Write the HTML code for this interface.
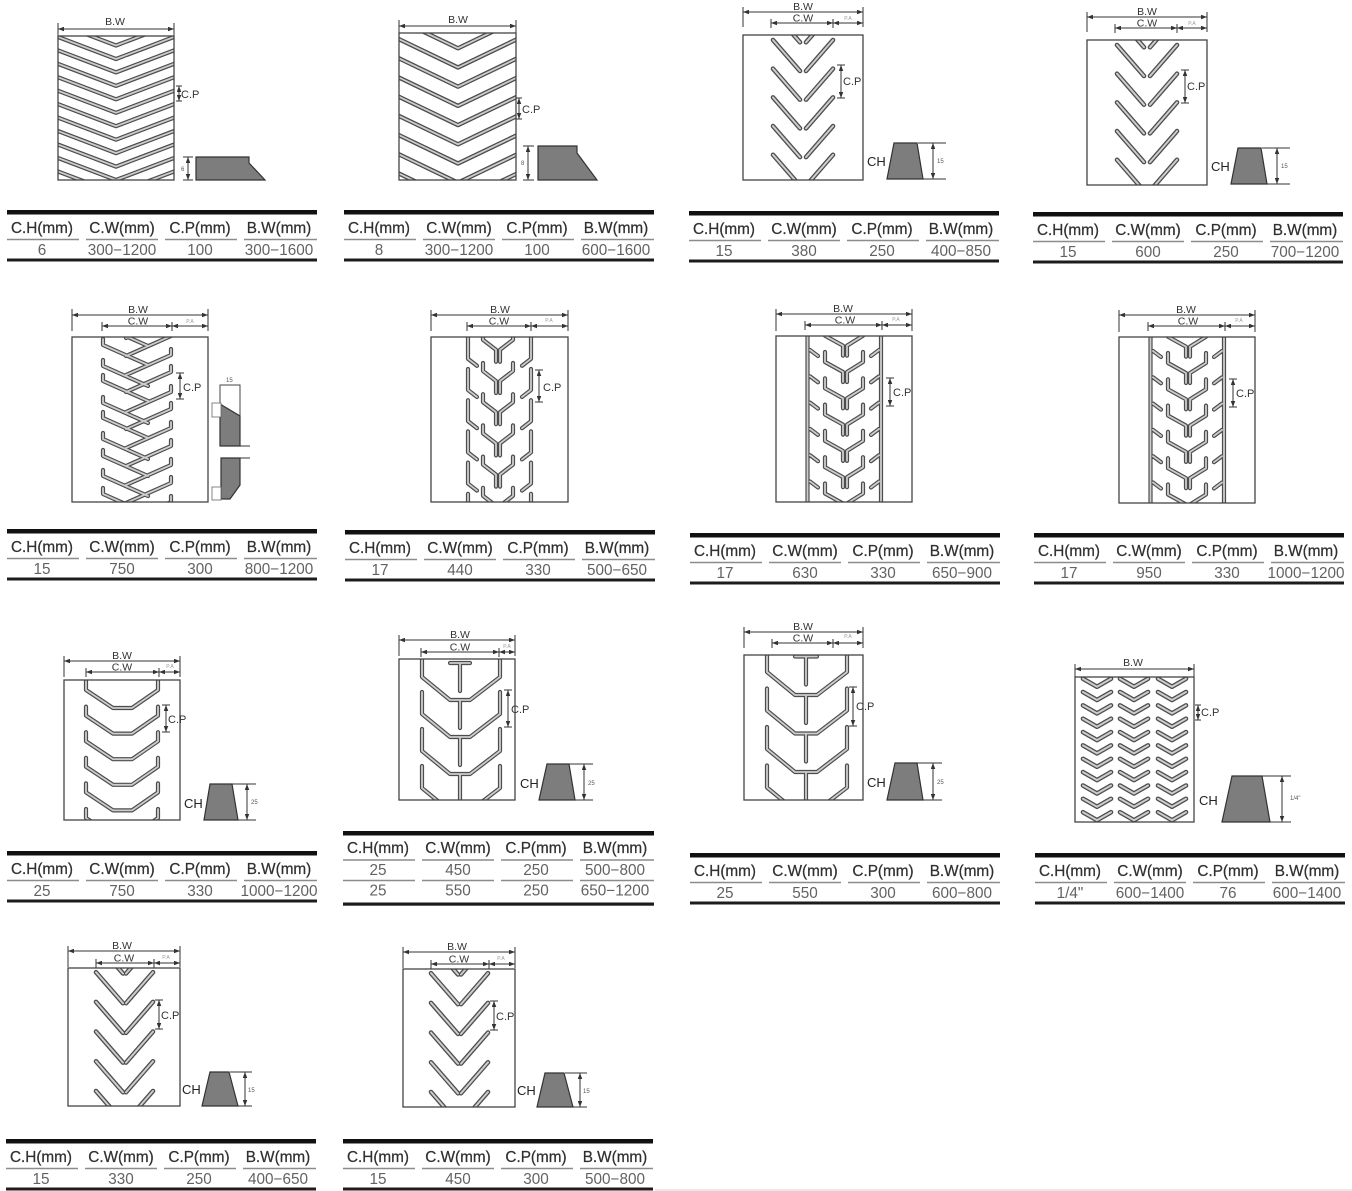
<!DOCTYPE html>
<html><head><meta charset="utf-8">
<style>
html,body{margin:0;padding:0;background:#fff;}
svg{display:block}
text{font-family:"Liberation Sans",Arial,sans-serif;}
.h{font-size:15.3px;fill:#303030;text-anchor:middle;stroke:#303030;stroke-width:0.25}
.v{font-size:15.3px;fill:#626262;text-anchor:middle}
.lb{font-size:10.5px;fill:#333;text-anchor:middle}
.cp{font-size:11px;fill:#333}
.ch{font-size:13px;fill:#222}
.sm{font-size:6px;fill:#555}
.pa{font-size:5px;fill:#999;text-anchor:middle}
.bo{stroke:#4d4d4d;stroke-width:4.6;fill:none;stroke-linecap:round;stroke-linejoin:round}
.bi{stroke:#cdcdcd;stroke-width:2;fill:none;stroke-linecap:round;stroke-linejoin:round}
.rc{fill:none;stroke:#444;stroke-width:1.3}
.dl{stroke:#333;stroke-width:1;fill:none}
.pf{fill:#7d7d7d;stroke:#333;stroke-width:1.2}
</style></head><body>
<svg width="1352" height="1191" viewBox="0 0 1352 1191" xmlns="http://www.w3.org/2000/svg">
<defs>
<marker id="a" viewBox="0 0 8 6" refX="8" refY="3" markerWidth="6" markerHeight="4.5" orient="auto-start-reverse" markerUnits="userSpaceOnUse"><path d="M0 0L8 3L0 6z" fill="#333"/></marker>
<clipPath id="c1"><rect x="58" y="36" width="116" height="144"/></clipPath>
<clipPath id="c2"><rect x="399" y="33" width="117" height="147"/></clipPath>
<clipPath id="c3"><rect x="743" y="35" width="120" height="145"/></clipPath>
<clipPath id="c5"><rect x="72" y="337" width="136" height="165"/></clipPath>
<clipPath id="c6"><rect x="431" y="337" width="137" height="165"/></clipPath>
<clipPath id="c7"><rect x="776" y="336" width="136" height="166"/></clipPath>
<clipPath id="c9"><rect x="64" y="680" width="116" height="140"/></clipPath>
<clipPath id="c10"><rect x="399" y="659" width="116" height="141"/></clipPath>
<clipPath id="c11"><rect x="744" y="655" width="119" height="145"/></clipPath>
<clipPath id="c12"><rect x="1075" y="677" width="119" height="145"/></clipPath>
<clipPath id="c13"><rect x="68" y="968" width="112" height="138"/></clipPath>

<path id="p1" d="M50 -19.9L116 5.2L182 -19.9M50 -6.5L116 18.6L182 -6.5M50 7L116 32.1L182 7M50 20.4L116 45.5L182 20.4M50 33.9L116 59L182 33.9M50 47.3L116 72.4L182 47.3M50 60.8L116 85.9L182 60.8M50 74.2L116 99.3L182 74.2M50 87.7L116 112.8L182 87.7M50 101.1L116 126.2L182 101.1M50 114.6L116 139.7L182 114.6M50 128L116 153.1L182 128M50 141.5L116 166.6L182 141.5M50 154.9L116 180L182 154.9M50 168.4L116 193.5L182 168.4"/>
<path id="p2" d="M392 -21.8L458 9.9L524 -21.8M392 -2.6L458 29.1L524 -2.6M392 16.6L458 48.3L524 16.6M392 35.8L458 67.5L524 35.8M392 55L458 86.7L524 55M392 74.2L458 105.9L524 74.2M392 93.4L458 125.1L524 93.4M392 112.6L458 144.3L524 112.6M392 131.8L458 163.5L524 131.8M392 151L458 182.7L524 151M392 170.2L458 201.9L524 170.2"/>
<path id="p3" d="M773 11.3L800 42.3M833 11.3L806 42.3M773 40L800 71M833 40L806 71M773 68.7L800 99.7M833 68.7L806 99.7M773 97.4L800 128.4M833 97.4L806 128.4M773 126.1L800 157.1M833 126.1L806 157.1M773 154.8L800 185.8M833 154.8L806 185.8"/>
<path id="p5" d="M103 320V326L148 346M103 339V345L148 365M103 360V366L148 386M103 375V381L148 401M103 397V403L148 423M103 412V418L148 438M103 433V439L148 459M103 450V456L148 476M103 470V476L148 496M103 488V494L148 514M103 505V511L148 531
M171 312V318L126 338M171 330V336L126 356M171 349V355L126 375M171 366V372L126 392M171 386V392L126 412M171 403V409L126 429M171 422V428L126 448M171 440V446L126 466M171 459V465L126 485M171 477V483L126 503M171 496V502L126 522"/>
<path id="p6" d="M483 331.8V339.8L496 349.8V361.8M513 331.8V339.8L500 349.8V361.8M468 337.8V358.8L477 365.8M531 337.8V358.8L522 365.8
M483 363V371L496 381V393M513 363V371L500 381V393M468 369V390L477 397M531 369V390L522 397
M483 394.2V402.2L496 412.2V424.2M513 394.2V402.2L500 412.2V424.2M468 400.2V421.2L477 428.2M531 400.2V421.2L522 428.2
M483 425.4V433.4L496 443.4V455.4M513 425.4V433.4L500 443.4V455.4M468 431.4V452.4L477 459.4M531 431.4V452.4L522 459.4
M483 456.6V464.6L496 474.6V486.6M513 456.6V464.6L500 474.6V486.6M468 462.6V483.6L477 490.6M531 462.6V483.6L522 490.6
M483 487.8V495.8L496 505.8V517.8M513 487.8V495.8L500 505.8V517.8M468 493.8V514.8L477 521.8M531 493.8V514.8L522 521.8"/>
<path id="p7" d="M807.5 330V510M881 330V510
M825 325.7V335.7L843 345.7V355.7M863 325.7V335.7L847 345.7V355.7M810 323.7L818 329.7M879 323.7L871 329.7
M825 352V362L843 372V382M863 352V362L847 372V382M810 350L818 356M879 350L871 356
M825 378.3V388.3L843 398.3V408.3M863 378.3V388.3L847 398.3V408.3M810 376.3L818 382.3M879 376.3L871 382.3
M825 404.6V414.6L843 424.6V434.6M863 404.6V414.6L847 424.6V434.6M810 402.6L818 408.6M879 402.6L871 408.6
M825 430.9V440.9L843 450.9V460.9M863 430.9V440.9L847 450.9V460.9M810 428.9L818 434.9M879 428.9L871 434.9
M825 457.2V467.2L843 477.2V487.2M863 457.2V467.2L847 477.2V487.2M810 455.2L818 461.2M879 455.2L871 461.2
M825 483.5V493.5L843 503.5V513.5M863 483.5V493.5L847 503.5V513.5M810 481.5L818 487.5M879 481.5L871 487.5"/>
<path id="p9" d="M86 681V690L113 708H132L158 690V681M86 706.6V715.6L113 733.6H132L158 715.6V706.6M86 732.2V741.2L113 759.2H132L158 741.2V732.2M86 757.8V766.8L113 784.8H132L158 766.8V757.8M86 783.4V792.4L113 810.4H132L158 792.4V783.4M86 809V818L113 836H132L158 818V809"/>
<path id="p10" d="M450 663H470M460 663V691M422 655V677L450 700H470L500 677V655M460 700V728M422 692V714L450 737H470L500 714V692M460 737V765M422 729V751L450 774H470L500 751V729M460 774V802M422 766V788L450 811H470L500 788V766"/>
<path id="p11" d="M795 656.5H817M806 656.5V684.5M767 650V672L795 695H817L847 672V650M806 695V723M767 688.5V710.5L795 733.5H817L847 710.5V688.5M806 733.5V761.5M767 727V749L795 772H817L847 749V727M806 772V800M767 765.5V787.5L795 810.5H817L847 787.5V765.5"/>
<path id="p12" d="M-14 665.3L0 673.3L14 665.3M-14 678.7L0 686.7L14 678.7M-14 692L0 700L14 692M-14 705.4L0 713.4L14 705.4M-14 718.7L0 726.7L14 718.7M-14 732.1L0 740.1L14 732.1M-14 745.4L0 753.4L14 745.4M-14 758.8L0 766.8L14 758.8M-14 772.1L0 780.1L14 772.1M-14 785.5L0 793.5L14 785.5M-14 798.8L0 806.8L14 798.8M-14 812.2L0 820.2L14 812.2M-14 825.5L0 833.5L14 825.5"/>
<path id="p13" d="M96 942.5L123 973.5M153 942.5L126 973.5M96 972.2L123 1003.2M153 972.2L126 1003.2M96 1001.9L123 1032.9M153 1001.9L126 1032.9M96 1031.6L123 1062.6M153 1031.6L126 1062.6M96 1061.3L123 1092.3M153 1061.3L126 1092.3M96 1091L123 1122M153 1091L126 1122"/>

<g id="tl">
<rect x="0" y="0" width="310" height="4.5" fill="#111"/>
<path d="M0 29.5H72M79 29.5H151M158 29.5H230M237 29.5H310" stroke="#8c8c8c" stroke-width="1.6"/>
<rect x="0" y="48.5" width="310" height="3" fill="#1c1c1c"/>
</g>
</defs>

<rect width="1352" height="1191" fill="#fff"/>

<!-- ===== Panel 1 ===== -->
<text class="lb" x="115" y="25">B.W</text>
<path class="dl" d="M58 29H174" marker-start="url(#a)" marker-end="url(#a)"/>
<path class="dl" d="M58 23V36M174 23V36"/>
<g clip-path="url(#c1)"><use href="#p1" class="bo" style="stroke-width:4.2"/><use href="#p1" class="bi" style="stroke-width:1.8"/></g>
<rect class="rc" x="58" y="36" width="116" height="144"/>
<path class="dl" d="M179 86V101" marker-start="url(#a)" marker-end="url(#a)"/>
<path class="dl" d="M176 86H182M176 101H182"/>
<text class="cp" x="181" y="98">C.P</text>
<polygon class="pf" points="196,157 249,157 249,163 265,180 196,180"/>
<path class="dl" d="M188 157V180" marker-start="url(#a)" marker-end="url(#a)"/>
<path class="dl" d="M183 157H193M183 180H193"/>
<text class="sm" x="181" y="171">6</text>

<!-- ===== Panel 2 ===== -->
<text class="lb" x="458" y="23">B.W</text>
<path class="dl" d="M399 26H516" marker-start="url(#a)" marker-end="url(#a)"/>
<path class="dl" d="M399 20V33M516 20V33"/>
<g clip-path="url(#c2)"><use href="#p2" class="bo" style="stroke-width:4.4"/><use href="#p2" class="bi" style="stroke-width:1.8"/></g>
<rect class="rc" x="399" y="33" width="117" height="147"/>
<path class="dl" d="M519 98V119" marker-start="url(#a)" marker-end="url(#a)"/>
<path class="dl" d="M516 98H522M516 119H522"/>
<text class="cp" x="522" y="113">C.P</text>
<polygon class="pf" points="538,146 577,146 577,153 597,180 538,180"/>
<path class="dl" d="M528 146V180" marker-start="url(#a)" marker-end="url(#a)"/>
<path class="dl" d="M523 146H534M523 180H534"/>
<text class="sm" x="521" y="165">8</text>

<!-- ===== Panel 3 ===== -->
<g>
<text class="lb" x="803" y="10">B.W</text>
<path class="dl" d="M743 12H863" marker-start="url(#a)" marker-end="url(#a)"/>
<path class="dl" d="M743 7V27M863 7V27"/>
<text class="lb" x="803" y="21.5">C.W</text>
<path class="dl" d="M771 23H833" marker-start="url(#a)" marker-end="url(#a)"/>
<path class="dl" d="M833 23H863" marker-start="url(#a)" marker-end="url(#a)"/>
<path class="dl" d="M771 19V28M833 19V28"/>
<text class="pa" x="848" y="20">P.A</text>
<g clip-path="url(#c3)"><use href="#p3" class="bo"/><use href="#p3" class="bi"/></g>
<rect class="rc" x="743" y="35" width="120" height="145"/>
<path class="dl" d="M841 65V98" marker-start="url(#a)" marker-end="url(#a)"/>
<path class="dl" d="M837 65H845M837 98H845"/>
<text class="cp" x="843" y="85">C.P</text>
<polygon class="pf" points="887,179 894,143 917,143 923,179"/>
<text class="ch" x="867" y="166">CH</text>
<path class="dl" d="M933 143V179" marker-start="url(#a)" marker-end="url(#a)"/>
<path class="dl" d="M918 143H946M922 179H946"/>
<text class="sm" x="937" y="163">15</text>
</g>

<!-- ===== Panel 4 ===== -->
<g transform="translate(344,5)">
<text class="lb" x="803" y="10">B.W</text>
<path class="dl" d="M743 12H863" marker-start="url(#a)" marker-end="url(#a)"/>
<path class="dl" d="M743 7V27M863 7V27"/>
<text class="lb" x="803" y="21.5">C.W</text>
<path class="dl" d="M771 23H833" marker-start="url(#a)" marker-end="url(#a)"/>
<path class="dl" d="M833 23H863" marker-start="url(#a)" marker-end="url(#a)"/>
<path class="dl" d="M771 19V28M833 19V28"/>
<text class="pa" x="848" y="20">P.A</text>
<g clip-path="url(#c3)"><use href="#p3" class="bo"/><use href="#p3" class="bi"/></g>
<rect class="rc" x="743" y="35" width="120" height="145"/>
<path class="dl" d="M841 65V98" marker-start="url(#a)" marker-end="url(#a)"/>
<path class="dl" d="M837 65H845M837 98H845"/>
<text class="cp" x="843" y="85">C.P</text>
<polygon class="pf" points="887,179 894,143 917,143 923,179"/>
<text class="ch" x="867" y="166">CH</text>
<path class="dl" d="M933 143V179" marker-start="url(#a)" marker-end="url(#a)"/>
<path class="dl" d="M918 143H946M922 179H946"/>
<text class="sm" x="937" y="163">15</text>
</g>

<!-- ===== Panel 5 ===== -->
<text class="lb" x="138" y="313">B.W</text>
<path class="dl" d="M72 315H208" marker-start="url(#a)" marker-end="url(#a)"/>
<path class="dl" d="M72 309V331M208 309V331"/>
<text class="lb" x="138" y="324.5">C.W</text>
<path class="dl" d="M102 326H172" marker-start="url(#a)" marker-end="url(#a)"/>
<path class="dl" d="M172 326H208" marker-start="url(#a)" marker-end="url(#a)"/>
<path class="dl" d="M102 322V331M172 322V331"/>
<text class="pa" x="190" y="323">P.A</text>
<g clip-path="url(#c5)"><use href="#p5" class="bo" style="stroke-width:4.2"/><use href="#p5" class="bi" style="stroke-width:1.8"/></g>
<rect class="rc" x="72" y="337" width="136" height="165"/>
<path class="dl" d="M180 373V399" marker-start="url(#a)" marker-end="url(#a)"/>
<path class="dl" d="M176 373H184M176 399H184"/>
<text class="cp" x="183" y="391">C.P</text>
<text class="sm" x="226" y="382">15</text>
<rect x="220" y="385" width="20" height="61" fill="#fff" stroke="#444" stroke-width="1"/>
<polygon class="pf" points="220,404 240,416 240,446 220,446"/>
<path class="dl" d="M240 446H250"/>
<rect x="212" y="403" width="9" height="14" fill="#fff" stroke="#666" stroke-width="0.8"/>
<polygon class="pf" points="221,458 240,458 240,485 230,499 221,499"/>
<path class="dl" d="M240 458H250"/>
<rect x="212" y="487" width="9" height="13" fill="#fff" stroke="#666" stroke-width="0.8"/>

<!-- ===== Panel 6 ===== -->
<text class="lb" x="500" y="313">B.W</text>
<path class="dl" d="M431 315H568" marker-start="url(#a)" marker-end="url(#a)"/>
<path class="dl" d="M431 310V331M568 310V331"/>
<text class="lb" x="499" y="324.5">C.W</text>
<path class="dl" d="M467 326H531" marker-start="url(#a)" marker-end="url(#a)"/>
<path class="dl" d="M531 326H568" marker-start="url(#a)" marker-end="url(#a)"/>
<path class="dl" d="M467 322V331M531 322V331"/>
<text class="pa" x="549" y="322">P.A</text>
<g clip-path="url(#c6)"><use href="#p6" class="bo" style="stroke-width:4.2"/><use href="#p6" class="bi" style="stroke-width:1.8"/></g>
<rect class="rc" x="431" y="337" width="137" height="165"/>
<path class="dl" d="M539 370V402" marker-start="url(#a)" marker-end="url(#a)"/>
<path class="dl" d="M535 370H543M535 402H543"/>
<text class="cp" x="543" y="391">C.P</text>

<!-- ===== Panel 7 ===== -->
<g>
<text class="lb" x="843" y="312">B.W</text>
<path class="dl" d="M776 314H912" marker-start="url(#a)" marker-end="url(#a)"/>
<path class="dl" d="M776 309V331M912 309V331"/>
<text class="lb" x="845" y="323.5">C.W</text>
<path class="dl" d="M805 325H882" marker-start="url(#a)" marker-end="url(#a)"/>
<path class="dl" d="M882 325H912" marker-start="url(#a)" marker-end="url(#a)"/>
<path class="dl" d="M805 321V330M882 321V330"/>
<text class="pa" x="896" y="321">P.A</text>
<g clip-path="url(#c7)"><use href="#p7" class="bo" style="stroke-width:4.2"/><use href="#p7" class="bi" style="stroke-width:1.8"/></g>
<rect class="rc" x="776" y="336" width="136" height="166"/>
<path class="dl" d="M890 378V406" marker-start="url(#a)" marker-end="url(#a)"/>
<path class="dl" d="M886 378H894M886 406H894"/>
<text class="cp" x="893" y="396">C.P</text>
</g>

<!-- ===== Panel 8 ===== -->
<g transform="translate(343,1)">
<text class="lb" x="843" y="312">B.W</text>
<path class="dl" d="M776 314H912" marker-start="url(#a)" marker-end="url(#a)"/>
<path class="dl" d="M776 309V331M912 309V331"/>
<text class="lb" x="845" y="323.5">C.W</text>
<path class="dl" d="M805 325H882" marker-start="url(#a)" marker-end="url(#a)"/>
<path class="dl" d="M882 325H912" marker-start="url(#a)" marker-end="url(#a)"/>
<path class="dl" d="M805 321V330M882 321V330"/>
<text class="pa" x="896" y="321">P.A</text>
<g clip-path="url(#c7)"><use href="#p7" class="bo" style="stroke-width:4.2"/><use href="#p7" class="bi" style="stroke-width:1.8"/></g>
<rect class="rc" x="776" y="336" width="136" height="166"/>
<path class="dl" d="M890 378V406" marker-start="url(#a)" marker-end="url(#a)"/>
<path class="dl" d="M886 378H894M886 406H894"/>
<text class="cp" x="893" y="396">C.P</text>
</g>

<!-- ===== Panel 9 ===== -->
<text class="lb" x="122" y="659">B.W</text>
<path class="dl" d="M64 661H180" marker-start="url(#a)" marker-end="url(#a)"/>
<path class="dl" d="M64 656V677M180 656V677"/>
<text class="lb" x="122" y="670.5">C.W</text>
<path class="dl" d="M86 672H159" marker-start="url(#a)" marker-end="url(#a)"/>
<path class="dl" d="M159 672H180" marker-start="url(#a)" marker-end="url(#a)"/>
<path class="dl" d="M86 668V677M159 668V677"/>
<text class="pa" x="170" y="668">P.A</text>
<g clip-path="url(#c9)"><use href="#p9" class="bo" style="stroke-width:4.2"/><use href="#p9" class="bi" style="stroke-width:1.8"/></g>
<rect class="rc" x="64" y="680" width="116" height="140"/>
<path class="dl" d="M166 705V732" marker-start="url(#a)" marker-end="url(#a)"/>
<path class="dl" d="M162 705H170M162 732H170"/>
<text class="cp" x="168" y="723">C.P</text>
<polygon class="pf" points="204,820 210,784 232,784 238,820"/>
<text class="ch" x="184" y="808">CH</text>
<path class="dl" d="M247 784V820" marker-start="url(#a)" marker-end="url(#a)"/>
<path class="dl" d="M232 784H256M238 820H256"/>
<text class="sm" x="251" y="804">25</text>

<!-- ===== Panel 10 ===== -->
<text class="lb" x="460" y="638">B.W</text>
<path class="dl" d="M399 640H515" marker-start="url(#a)" marker-end="url(#a)"/>
<path class="dl" d="M399 635V656M515 635V656"/>
<text class="lb" x="460" y="650.5">C.W</text>
<path class="dl" d="M421 652H499" marker-start="url(#a)" marker-end="url(#a)"/>
<path class="dl" d="M499 652H515" marker-start="url(#a)" marker-end="url(#a)"/>
<path class="dl" d="M421 648V657M499 648V657"/>
<text class="pa" x="507" y="648">P.A</text>
<g clip-path="url(#c10)"><use href="#p10" class="bo" style="stroke-width:4.2"/><use href="#p10" class="bi" style="stroke-width:1.8"/></g>
<rect class="rc" x="399" y="659" width="116" height="141"/>
<path class="dl" d="M508 690V727" marker-start="url(#a)" marker-end="url(#a)"/>
<path class="dl" d="M504 690H512M504 727H512"/>
<text class="cp" x="511" y="713">C.P</text>
<polygon class="pf" points="539,800 547,764 569,764 575,800"/>
<text class="ch" x="520" y="788">CH</text>
<path class="dl" d="M584 764V800" marker-start="url(#a)" marker-end="url(#a)"/>
<path class="dl" d="M569 764H593M575 800H593"/>
<text class="sm" x="588" y="785">25</text>

<!-- ===== Panel 11 ===== -->
<text class="lb" x="803" y="630">B.W</text>
<path class="dl" d="M744 632H863" marker-start="url(#a)" marker-end="url(#a)"/>
<path class="dl" d="M744 627V648M863 627V648"/>
<text class="lb" x="803" y="641.5">C.W</text>
<path class="dl" d="M772 643H833" marker-start="url(#a)" marker-end="url(#a)"/>
<path class="dl" d="M833 643H863" marker-start="url(#a)" marker-end="url(#a)"/>
<path class="dl" d="M772 639V648M833 639V648"/>
<text class="pa" x="848" y="638">P.A</text>
<g clip-path="url(#c11)"><use href="#p11" class="bo" style="stroke-width:4.2"/><use href="#p11" class="bi" style="stroke-width:1.8"/></g>
<rect class="rc" x="744" y="655" width="119" height="145"/>
<path class="dl" d="M853 687V726" marker-start="url(#a)" marker-end="url(#a)"/>
<path class="dl" d="M849 687H857M849 726H857"/>
<text class="cp" x="856" y="710">C.P</text>
<polygon class="pf" points="887,800 895,763 917,763 923,800"/>
<text class="ch" x="867" y="787">CH</text>
<path class="dl" d="M933 763V800" marker-start="url(#a)" marker-end="url(#a)"/>
<path class="dl" d="M917 763H942M923 800H942"/>
<text class="sm" x="937" y="784">25</text>

<!-- ===== Panel 12 ===== -->
<text class="lb" x="1133" y="666">B.W</text>
<path class="dl" d="M1075 669H1194" marker-start="url(#a)" marker-end="url(#a)"/>
<path class="dl" d="M1075 664V677M1194 664V677"/>
<g clip-path="url(#c12)">
<use href="#p12" class="bo" transform="translate(1097,0)"/><use href="#p12" class="bi" transform="translate(1097,0)"/>
<use href="#p12" class="bo" transform="translate(1134,0)"/><use href="#p12" class="bi" transform="translate(1134,0)"/>
<use href="#p12" class="bo" transform="translate(1172,0)"/><use href="#p12" class="bi" transform="translate(1172,0)"/>
</g>
<rect class="rc" x="1075" y="677" width="119" height="145"/>
<path class="dl" d="M1198 705V720" marker-start="url(#a)" marker-end="url(#a)"/>
<path class="dl" d="M1195 705H1201M1195 720H1201"/>
<text class="cp" x="1201" y="716">C.P</text>
<polygon class="pf" points="1222,822 1232,776 1262,776 1270,822"/>
<text class="ch" x="1199" y="805">CH</text>
<path class="dl" d="M1282 776V822" marker-start="url(#a)" marker-end="url(#a)"/>
<path class="dl" d="M1262 776H1291M1270 822H1291"/>
<text class="sm" x="1290" y="800">1/4"</text>

<!-- ===== Panel 13 ===== -->
<g>
<text class="lb" x="122" y="949">B.W</text>
<path class="dl" d="M68 951H180" marker-start="url(#a)" marker-end="url(#a)"/>
<path class="dl" d="M68 946V967M180 946V967"/>
<text class="lb" x="124" y="961.5">C.W</text>
<path class="dl" d="M96 963H154" marker-start="url(#a)" marker-end="url(#a)"/>
<path class="dl" d="M154 963H180" marker-start="url(#a)" marker-end="url(#a)"/>
<path class="dl" d="M96 959V968M154 959V968"/>
<text class="pa" x="166" y="959">P.A</text>
<g clip-path="url(#c13)"><use href="#p13" class="bo"/><use href="#p13" class="bi"/></g>
<rect class="rc" x="68" y="968" width="112" height="138"/>
<path class="dl" d="M159 1000V1029" marker-start="url(#a)" marker-end="url(#a)"/>
<path class="dl" d="M155 1000H163M155 1029H163"/>
<text class="cp" x="161" y="1019">C.P</text>
<polygon class="pf" points="202,1106 210,1072 229,1072 238,1106"/>
<text class="ch" x="182" y="1094">CH</text>
<path class="dl" d="M245 1072V1106" marker-start="url(#a)" marker-end="url(#a)"/>
<path class="dl" d="M230 1072H252M238 1106H252"/>
<text class="sm" x="248" y="1092">15</text>
</g>

<!-- ===== Panel 14 ===== -->
<g transform="translate(335,1)">
<text class="lb" x="122" y="949">B.W</text>
<path class="dl" d="M68 951H180" marker-start="url(#a)" marker-end="url(#a)"/>
<path class="dl" d="M68 946V967M180 946V967"/>
<text class="lb" x="124" y="961.5">C.W</text>
<path class="dl" d="M96 963H154" marker-start="url(#a)" marker-end="url(#a)"/>
<path class="dl" d="M154 963H180" marker-start="url(#a)" marker-end="url(#a)"/>
<path class="dl" d="M96 959V968M154 959V968"/>
<text class="pa" x="166" y="959">P.A</text>
<g clip-path="url(#c13)"><use href="#p13" class="bo"/><use href="#p13" class="bi"/></g>
<rect class="rc" x="68" y="968" width="112" height="138"/>
<path class="dl" d="M159 1000V1029" marker-start="url(#a)" marker-end="url(#a)"/>
<path class="dl" d="M155 1000H163M155 1029H163"/>
<text class="cp" x="161" y="1019">C.P</text>
<polygon class="pf" points="202,1106 210,1072 229,1072 238,1106"/>
<text class="ch" x="182" y="1094">CH</text>
<path class="dl" d="M245 1072V1106" marker-start="url(#a)" marker-end="url(#a)"/>
<path class="dl" d="M230 1072H252M238 1106H252"/>
<text class="sm" x="248" y="1092">15</text>
</g>

<!-- ===== Tables ===== -->
<g transform="translate(7,210)"><use href="#tl"/>
<text class="h" x="35" y="23">C.H(mm)</text><text class="h" x="115" y="23">C.W(mm)</text><text class="h" x="193" y="23">C.P(mm)</text><text class="h" x="272" y="23">B.W(mm)</text>
<text class="v" x="35" y="45">6</text><text class="v" x="115" y="45">300−1200</text><text class="v" x="193" y="45">100</text><text class="v" x="272" y="45">300−1600</text></g>

<g transform="translate(344,210)"><use href="#tl"/>
<text class="h" x="35" y="23">C.H(mm)</text><text class="h" x="115" y="23">C.W(mm)</text><text class="h" x="193" y="23">C.P(mm)</text><text class="h" x="272" y="23">B.W(mm)</text>
<text class="v" x="35" y="45">8</text><text class="v" x="115" y="45">300−1200</text><text class="v" x="193" y="45">100</text><text class="v" x="272" y="45">600−1600</text></g>

<g transform="translate(689,211)"><use href="#tl"/>
<text class="h" x="35" y="23">C.H(mm)</text><text class="h" x="115" y="23">C.W(mm)</text><text class="h" x="193" y="23">C.P(mm)</text><text class="h" x="272" y="23">B.W(mm)</text>
<text class="v" x="35" y="45">15</text><text class="v" x="115" y="45">380</text><text class="v" x="193" y="45">250</text><text class="v" x="272" y="45">400−850</text></g>

<g transform="translate(1033,212)"><use href="#tl"/>
<text class="h" x="35" y="23">C.H(mm)</text><text class="h" x="115" y="23">C.W(mm)</text><text class="h" x="193" y="23">C.P(mm)</text><text class="h" x="272" y="23">B.W(mm)</text>
<text class="v" x="35" y="45">15</text><text class="v" x="115" y="45">600</text><text class="v" x="193" y="45">250</text><text class="v" x="272" y="45">700−1200</text></g>

<g transform="translate(7,529)"><use href="#tl"/>
<text class="h" x="35" y="23">C.H(mm)</text><text class="h" x="115" y="23">C.W(mm)</text><text class="h" x="193" y="23">C.P(mm)</text><text class="h" x="272" y="23">B.W(mm)</text>
<text class="v" x="35" y="45">15</text><text class="v" x="115" y="45">750</text><text class="v" x="193" y="45">300</text><text class="v" x="272" y="45">800−1200</text></g>

<g transform="translate(345,530)"><use href="#tl"/>
<text class="h" x="35" y="23">C.H(mm)</text><text class="h" x="115" y="23">C.W(mm)</text><text class="h" x="193" y="23">C.P(mm)</text><text class="h" x="272" y="23">B.W(mm)</text>
<text class="v" x="35" y="45">17</text><text class="v" x="115" y="45">440</text><text class="v" x="193" y="45">330</text><text class="v" x="272" y="45">500−650</text></g>

<g transform="translate(690,533)"><use href="#tl"/>
<text class="h" x="35" y="23">C.H(mm)</text><text class="h" x="115" y="23">C.W(mm)</text><text class="h" x="193" y="23">C.P(mm)</text><text class="h" x="272" y="23">B.W(mm)</text>
<text class="v" x="35" y="45">17</text><text class="v" x="115" y="45">630</text><text class="v" x="193" y="45">330</text><text class="v" x="272" y="45">650−900</text></g>

<g transform="translate(1034,533)"><use href="#tl"/>
<text class="h" x="35" y="23">C.H(mm)</text><text class="h" x="115" y="23">C.W(mm)</text><text class="h" x="193" y="23">C.P(mm)</text><text class="h" x="272" y="23">B.W(mm)</text>
<text class="v" x="35" y="45">17</text><text class="v" x="115" y="45">950</text><text class="v" x="193" y="45">330</text><text class="v" x="272" y="45">1000−1200</text></g>

<g transform="translate(7,851)"><use href="#tl"/>
<text class="h" x="35" y="23">C.H(mm)</text><text class="h" x="115" y="23">C.W(mm)</text><text class="h" x="193" y="23">C.P(mm)</text><text class="h" x="272" y="23">B.W(mm)</text>
<text class="v" x="35" y="45">25</text><text class="v" x="115" y="45">750</text><text class="v" x="193" y="45">330</text><text class="v" x="272" y="45">1000−1200</text></g>

<g transform="translate(343,831)">
<rect x="0" y="0" width="311" height="4.5" fill="#111"/>
<path d="M0 29H72M79 29H151M158 29H230M237 29H311M0 49.5H72M79 49.5H151M158 49.5H230M237 49.5H311" stroke="#8c8c8c" stroke-width="1.6"/>
<rect x="0" y="71.5" width="311" height="3.2" fill="#1c1c1c"/>
<text class="h" x="35" y="22">C.H(mm)</text><text class="h" x="115" y="22">C.W(mm)</text><text class="h" x="193" y="22">C.P(mm)</text><text class="h" x="272" y="22">B.W(mm)</text>
<text class="v" x="35" y="44">25</text><text class="v" x="115" y="44">450</text><text class="v" x="193" y="44">250</text><text class="v" x="272" y="44">500−800</text>
<text class="v" x="35" y="64.5">25</text><text class="v" x="115" y="64.5">550</text><text class="v" x="193" y="64.5">250</text><text class="v" x="272" y="64.5">650−1200</text></g>

<g transform="translate(690,853)"><use href="#tl"/>
<text class="h" x="35" y="23">C.H(mm)</text><text class="h" x="115" y="23">C.W(mm)</text><text class="h" x="193" y="23">C.P(mm)</text><text class="h" x="272" y="23">B.W(mm)</text>
<text class="v" x="35" y="45">25</text><text class="v" x="115" y="45">550</text><text class="v" x="193" y="45">300</text><text class="v" x="272" y="45">600−800</text></g>

<g transform="translate(1035,853)"><use href="#tl"/>
<text class="h" x="35" y="23">C.H(mm)</text><text class="h" x="115" y="23">C.W(mm)</text><text class="h" x="193" y="23">C.P(mm)</text><text class="h" x="272" y="23">B.W(mm)</text>
<text class="v" x="35" y="45">1/4"</text><text class="v" x="115" y="45">600−1400</text><text class="v" x="193" y="45">76</text><text class="v" x="272" y="45">600−1400</text></g>

<g transform="translate(6,1139)"><use href="#tl"/>
<text class="h" x="35" y="23">C.H(mm)</text><text class="h" x="115" y="23">C.W(mm)</text><text class="h" x="193" y="23">C.P(mm)</text><text class="h" x="272" y="23">B.W(mm)</text>
<text class="v" x="35" y="45">15</text><text class="v" x="115" y="45">330</text><text class="v" x="193" y="45">250</text><text class="v" x="272" y="45">400−650</text></g>

<g transform="translate(343,1139)"><use href="#tl"/>
<text class="h" x="35" y="23">C.H(mm)</text><text class="h" x="115" y="23">C.W(mm)</text><text class="h" x="193" y="23">C.P(mm)</text><text class="h" x="272" y="23">B.W(mm)</text>
<text class="v" x="35" y="45">15</text><text class="v" x="115" y="45">450</text><text class="v" x="193" y="45">300</text><text class="v" x="272" y="45">500−800</text></g>

<rect x="655" y="1189" width="697" height="2" fill="#e9e9e9"/>
</svg>
</body></html>
